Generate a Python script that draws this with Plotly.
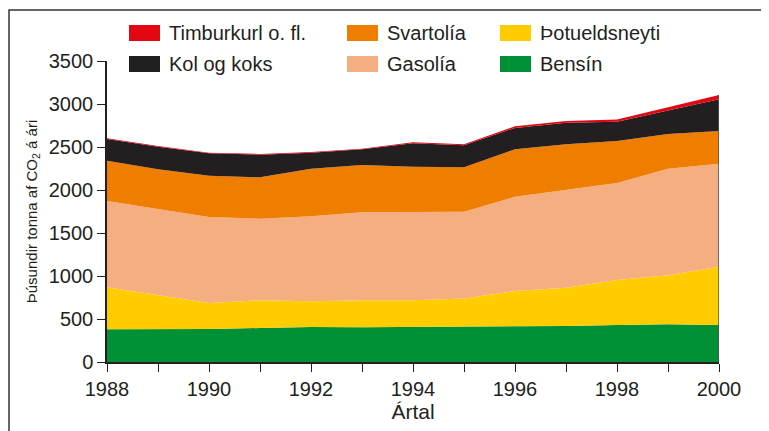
import plotly.graph_objects as go

years = list(range(1988, 2001))
bensin = [380, 379, 384, 395, 407, 403, 407, 407, 415, 419, 430, 438, 430]
thotueldsneyti = [488, 400, 302, 322, 298, 314, 310, 330, 411, 445, 523, 570, 679]
gasolia = [1004, 996, 1000, 950, 989, 1023, 1031, 1011, 1096, 1136, 1128, 1240, 1197]
svartolia = [469, 465, 481, 480, 554, 551, 523, 516, 551, 531, 489, 403, 380]
kol_og_koks = [252, 264, 259, 264, 186, 182, 273, 255, 249, 251, 225, 271, 368]
timburkurl = [8, 8, 8, 8, 8, 8, 10, 12, 18, 20, 25, 40, 51]

series = [
    ("Bensín", bensin, "#009036"),
    ("Þotueldsneyti", thotueldsneyti, "#ffcc00"),
    ("Gasolía", gasolia, "#f5ae80"),
    ("Svartolía", svartolia, "#ef7d00"),
    ("Kol og koks", kol_og_koks, "#231f20"),
    ("Timburkurl o. fl.", timburkurl, "#e30613"),
]

y_tickvals = [0, 500, 1000, 1500, 2000, 2500, 3000, 3500]

fig = go.Figure()
for name, vals, col in series:
    fig.add_trace(go.Scatter(
        x=years, y=vals, name=name, mode="lines",
        stackgroup="one", line=dict(width=0, color=col),
        fillcolor=col, showlegend=False,
    ))

total = [sum(v) for v in zip(*[s[1] for s in series])]
# right-hand edge of the stacked area
fig.add_trace(go.Scatter(
    x=[years[-1], years[-1]], y=[0, total[-1]], mode="lines",
    line=dict(color="#555555", width=1.5), showlegend=False, hoverinfo="skip",
))

txt = "#231f20"
font_family = "Liberation Sans, Arial, sans-serif"

# page has an 8px body margin; work in page pixels and convert
OFF = 8
W, H = 761, 423
L, T = 107 - OFF, 61 - OFF
pw, ph = 612, 301
R = W - L - pw
B = H - T - ph


def px(xp):
    return (xp - OFF - L) / pw


def py(yp):
    return (T + ph - (yp - OFF)) / ph


legend_layout = [
    ("Timburkurl o. fl.", "#e30613", 129, 33),
    ("Svartolía", "#ef7d00", 347, 33),
    ("Þotueldsneyti", "#ffcc00", 500, 33),
    ("Kol og koks", "#231f20", 129, 64),
    ("Gasolía", "#f5ae80", 347, 64),
    ("Bensín", "#009036", 500, 64),
]
shapes = []
annotations = []
for name, col, x0, yc in legend_layout:
    shapes.append(dict(type="rect", xref="paper", yref="paper",
                       x0=px(x0), x1=px(x0 + 31), y0=py(yc + 8), y1=py(yc - 8),
                       fillcolor=col, line=dict(width=0)))
    annotations.append(dict(text=name, xref="paper", yref="paper",
                            x=px(x0 + 38), y=py(yc), xanchor="left", yanchor="middle",
                            showarrow=False, font=dict(size=20, color=txt, family=font_family)))

# outer frame (left, top, right)
shapes.append(dict(type="path", xref="paper", yref="paper",
                   path=f"M {px(9)},{py(445)} L {px(9)},{py(10)} L {px(763)},{py(10)} L {px(763)},{py(445)}",
                   line=dict(color="#333333", width=1.5)))

fig.update_layout(
    width=W, height=H,
    margin=dict(l=L, r=R, t=T, b=B),
    paper_bgcolor="white", plot_bgcolor="white",
    font=dict(family=font_family, color=txt, size=20),
    shapes=shapes, annotations=annotations,
    xaxis=dict(
        range=[1988, 2000], tick0=1988, dtick=2,
        showgrid=False, zeroline=False, showline=True, linecolor=txt, linewidth=1.5,
        ticks="outside", ticklen=8, tickwidth=1.2, tickcolor=txt,
        minor=dict(dtick=1, tick0=1988, ticks="outside", ticklen=8, tickwidth=1.2,
                   tickcolor=txt, showgrid=False),
        tickfont=dict(size=20, color=txt),
        title=dict(text="Ártal", font=dict(size=21, color=txt), standoff=4),
    ),
    yaxis=dict(
        range=[0, 3500], tickvals=y_tickvals,
        showgrid=False, zeroline=False, showline=True, linecolor=txt, linewidth=1.5,
        ticks="outside", ticklen=8, tickwidth=1.2, tickcolor=txt,
        tickfont=dict(size=20, color=txt),
        title=dict(text="Þúsundir tonna af CO<sub>2</sub> á ári", font=dict(size=15, color=txt), standoff=8),
    ),
)

fig.write_html("out.html")
